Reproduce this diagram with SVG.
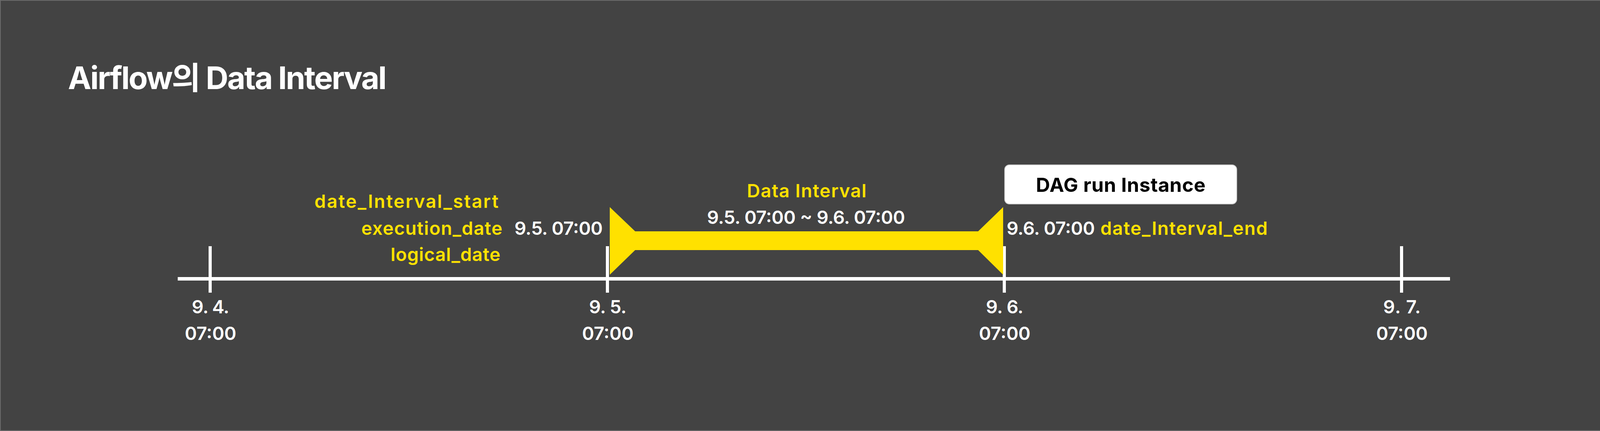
<svg xmlns="http://www.w3.org/2000/svg" width="4166" height="1103" viewBox="0 0 4166 1103">
<style>
.t{font-family:Inter,"Noto Sans","Noto Sans CJK KR",sans-serif;font-weight:600;font-size:47px;fill:#ffffff}
.y{fill:#FFE100}
.c{text-anchor:middle}
.e{text-anchor:end}
.tick{stroke:#ffffff;stroke-width:8}
</style>
<rect x="1" y="1" width="4164" height="1101" fill="#434343" stroke="#6b6b6b" stroke-width="2"/>
<g id="title">
<text x="174" y="228" class="t" style="font-size:80px;font-weight:700" textLength="816">Airflow의 Data Interval</text>
</g>
<g id="connectors">
<line x1="455" y1="713.5" x2="3712" y2="713.5" stroke="#ffffff" stroke-width="9"/>
</g>
<g id="ticks">
<line class="tick" x1="538" y1="630" x2="538" y2="749"/>
<line class="tick" x1="1555" y1="630" x2="1555" y2="749"/>
<line class="tick" x1="2571" y1="630" x2="2571" y2="749"/>
<line class="tick" x1="3588" y1="630" x2="3588" y2="749"/>
</g>
<g id="interval-bar">
<polygon points="1561,530 1626,592 2504,592 2568,530 2568,703 2504,640 1626,640 1561,703" fill="#FFE100"/>
<text x="1912" y="505" class="t y" textLength="306">Data Interval</text>
<text x="1810" y="573" class="t" textLength="507">9.5. 07:00 ~ 9.6. 07:00</text>
</g>
<g id="start-labels">
<text x="805" y="532" class="t y" textLength="471">date_Interval_start</text>
<text x="925" y="601" class="t y" textLength="361">execution_date</text>
<text x="1000" y="668" class="t y" textLength="281">logical_date</text>
<text x="1317" y="601" class="t" textLength="226">9.5. 07:00</text>
</g>
<g id="dag-run">
<rect x="2572" y="422" width="594" height="100" rx="12" fill="#ffffff" stroke="#d0d0d0" stroke-width="2"/>
<text x="2652" y="491" class="t" style="fill:#000000;font-size:50px;font-weight:700" textLength="434">DAG run Instance</text>
</g>
<g id="end-labels">
<text x="2577" y="601" class="t" textLength="226">9.6. 07:00</text>
<text x="2817" y="601" class="t y" textLength="428">date_Interval_end</text>
</g>
<g id="axis-labels">
<text x="491" y="802" class="t" textLength="96">9. 4.</text>
<text x="473" y="870" class="t" textLength="132">07:00</text>
<text x="1508" y="802" class="t" textLength="96">9. 5.</text>
<text x="1490" y="870" class="t" textLength="132">07:00</text>
<text x="2524" y="802" class="t" textLength="96">9. 6.</text>
<text x="2506" y="870" class="t" textLength="132">07:00</text>
<text x="3541" y="802" class="t" textLength="96">9. 7.</text>
<text x="3523" y="870" class="t" textLength="132">07:00</text>
</g>
</svg>
